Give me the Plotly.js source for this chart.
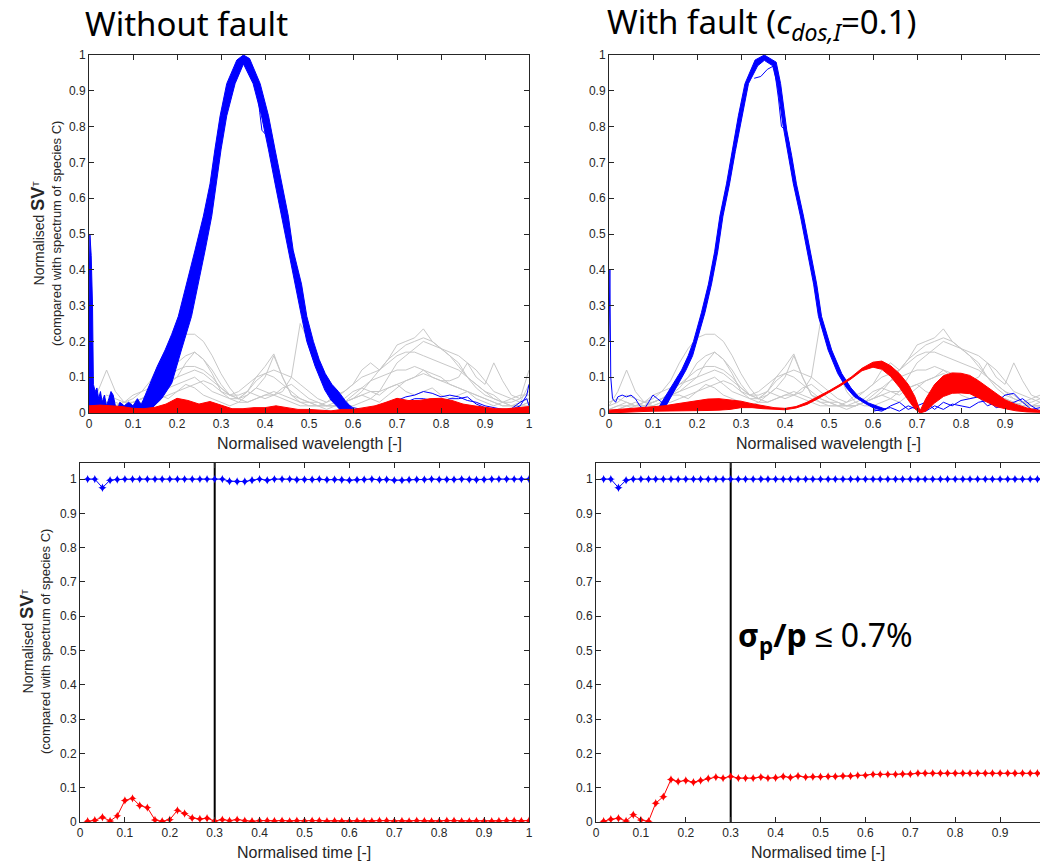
<!DOCTYPE html>
<html><head><meta charset="utf-8">
<script src="https://cdn.plot.ly/plotly-3.0.1.min.js"></script>
<style>html,body{margin:0;padding:0;overflow:hidden;background:#fff;width:1040px;height:862px}#chart{width:1060px;height:862px}</style>
</head><body><div id="chart"></div><script>
// ---------- tick labels ----------
const tickVals = [0,0.1,0.2,0.3,0.4,0.5,0.6,0.7,0.8,0.9,1];
const tickText = ['0','0.1','0.2','0.3','0.4','0.5','0.6','0.7','0.8','0.9','1'];
// right-hand panels are cut by the picture edge just before x = 1
const tickValsCut = [0,0.1,0.2,0.3,0.4,0.5,0.6,0.7,0.8,0.9];
const tickTextCut = ['0','0.1','0.2','0.3','0.4','0.5','0.6','0.7','0.8','0.9'];

// ---------- wavelength grid for grey spectra (other species) ----------
const wlGrid = [0,.02,.04,.06,.08,.10,.12,.14,.16,.18,.20,.22,.24,.26,.28,.30,.32,.34,.36,.38,.40,.42,.44,.46,.48,.50,.52,.54,.56,.58,.60,.62,.64,.66,.68,.70,.72,.74,.76,.78,.80,.82,.84,.86,.88,.90,.92,.94,.96,.98,1.0];
const greyA = [0.02,0.06,0.12,0.06,0.03,0.04,0.06,0.09,0.14,0.18,0.21,0.22,0.22,0.2,0.16,0.11,0.07,0.04,0.03,0.04,0.05,0.06,0.05,0.04,0.03,0.03,0.02,0.02,0.02,0.03,0.04,0.06,0.09,0.12,0.15,0.17,0.19,0.2,0.21,0.2,0.18,0.16,0.14,0.1,0.07,0.05,0.04,0.03,0.03,0.04,0.06];
const greyB = [0.01,0.02,0.03,0.02,0.02,0.03,0.04,0.05,0.07,0.1,0.14,0.16,0.17,0.15,0.12,0.08,0.05,0.04,0.05,0.07,0.1,0.16,0.1,0.05,0.03,0.02,0.02,0.03,0.05,0.06,0.08,0.12,0.14,0.12,0.15,0.19,0.2,0.21,0.235,0.2,0.18,0.16,0.13,0.1,0.08,0.06,0.05,0.03,0.02,0.02,0.03];
const greyC = [0.0,0.01,0.02,0.03,0.02,0.02,0.03,0.03,0.04,0.05,0.06,0.07,0.08,0.09,0.08,0.06,0.05,0.05,0.06,0.05,0.04,0.05,0.06,0.1,0.25,0.2,0.12,0.06,0.03,0.02,0.02,0.03,0.04,0.06,0.1,0.14,0.16,0.18,0.2,0.19,0.18,0.17,0.16,0.14,0.12,0.09,0.06,0.05,0.04,0.05,0.05];
const greyD = [0.03,0.04,0.03,0.02,0.03,0.05,0.06,0.07,0.08,0.09,0.1,0.11,0.12,0.11,0.09,0.07,0.05,0.04,0.06,0.09,0.11,0.1,0.08,0.06,0.04,0.03,0.03,0.02,0.02,0.03,0.04,0.05,0.06,0.06,0.07,0.08,0.09,0.1,0.12,0.1,0.09,0.09,0.1,0.14,0.1,0.08,0.14,0.09,0.05,0.04,0.12];
const greyE = [0.01,0.02,0.02,0.01,0.02,0.03,0.04,0.05,0.06,0.07,0.08,0.09,0.1,0.08,0.06,0.05,0.04,0.04,0.06,0.1,0.13,0.165,0.1,0.05,0.04,0.03,0.02,0.02,0.03,0.04,0.06,0.07,0.09,0.1,0.11,0.12,0.12,0.13,0.12,0.11,0.1,0.08,0.07,0.06,0.05,0.04,0.03,0.02,0.02,0.03,0.04];
const greyF = [0.02,0.03,0.05,0.04,0.03,0.02,0.03,0.05,0.05,0.04,0.06,0.08,0.07,0.05,0.04,0.03,0.02,0.03,0.05,0.07,0.06,0.05,0.07,0.08,0.06,0.04,0.03,0.02,0.02,0.03,0.05,0.07,0.06,0.05,0.07,0.08,0.06,0.05,0.06,0.07,0.05,0.04,0.05,0.06,0.04,0.03,0.02,0.03,0.04,0.03,0.08];
const greyG = [0.01,0.01,0.02,0.02,0.03,0.03,0.04,0.06,0.08,0.1,0.12,0.13,0.13,0.12,0.1,0.07,0.05,0.06,0.08,0.1,0.11,0.12,0.11,0.1,0.08,0.06,0.04,0.03,0.04,0.06,0.08,0.1,0.11,0.12,0.14,0.16,0.17,0.17,0.16,0.15,0.14,0.13,0.12,0.1,0.08,0.06,0.04,0.03,0.02,0.02,0.02];
const greyH = [0.0,0.01,0.01,0.02,0.02,0.03,0.04,0.05,0.06,0.08,0.1,0.14,0.17,0.15,0.11,0.06,0.04,0.03,0.03,0.04,0.05,0.05,0.04,0.03,0.02,0.02,0.02,0.01,0.02,0.03,0.04,0.05,0.04,0.03,0.05,0.07,0.09,0.1,0.11,0.1,0.09,0.08,0.07,0.06,0.05,0.04,0.03,0.02,0.02,0.02,0.03];

// ---------- species C band, without fault (outer and inner edges) ----------
const blueOuterX_nf = [0.10,0.12,0.139,0.155,0.173,0.188,0.203,0.222,0.241,0.26,0.275,0.286,0.298,0.313,0.336,0.351,0.365,0.389,0.408,0.423,0.438,0.453,0.464,0.483,0.495,0.51,0.523,0.537,0.552,0.567,0.582,0.597,0.61];
const blueOuterY_nf = [0.005,0.027,0.083,0.13,0.176,0.22,0.27,0.36,0.455,0.55,0.64,0.735,0.83,0.92,0.986,1.0,0.99,0.92,0.83,0.735,0.64,0.55,0.455,0.36,0.27,0.2,0.15,0.11,0.08,0.06,0.035,0.015,0.005];
const blueInnerX_nf = [0.14,0.165,0.188,0.21,0.233,0.248,0.264,0.279,0.29,0.30,0.313,0.332,0.351,0.373,0.392,0.408,0.423,0.438,0.453,0.468,0.483,0.495,0.514,0.536,0.55,0.57];
const blueInnerY_nf = [0.01,0.04,0.083,0.176,0.27,0.36,0.455,0.55,0.64,0.735,0.83,0.92,0.975,0.92,0.83,0.735,0.64,0.55,0.455,0.36,0.27,0.2,0.13,0.064,0.036,0.01];
const blueDevX_nf = [0.37,0.382,0.388,0.393,0.40,0.408,0.418];
const blueDevY_nf = [0.97,0.91,0.84,0.79,0.78,0.77,0.72];
const blueLowLX_nf = [0,0.002,0.005,0.008,0.01,0.014,0.018,0.022,0.026,0.03,0.035,0.04,0.045,0.05,0.055,0.06,0.065,0.07,0.08,0.09,0.1,0.11,0.12,0.13];
const blueLowLY_nf = [0.3,0.5,0.44,0.3,0.08,0.06,0.07,0.04,0.06,0.03,0.05,0.02,0.04,0.06,0.05,0.02,0.01,0.03,0.02,0.03,0.02,0.04,0.02,0.01];
const blueLowRX = [0.58,0.6,0.62,0.64,0.66,0.68,0.7,0.72,0.74,0.76,0.78,0.8,0.82,0.84,0.86,0.88,0.9,0.92,0.94,0.96,0.98,0.995,1.0];
const blueLowR1_nf = [0.03,0.015,0.01,0.012,0.02,0.03,0.035,0.045,0.05,0.06,0.055,0.045,0.05,0.045,0.035,0.03,0.02,0.015,0.01,0.01,0.02,0.05,0.08];
const blueLowR2_nf = [0.02,0.01,0.008,0.015,0.012,0.02,0.025,0.03,0.04,0.04,0.035,0.03,0.04,0.04,0.045,0.025,0.015,0.01,0.005,0.012,0.03,0.04,0.02];

// ---------- fault species band, without fault ----------
const redX = [0,0.025,0.05,0.075,0.1,0.125,0.15,0.175,0.2,0.225,0.25,0.275,0.3,0.325,0.35,0.375,0.4,0.425,0.45,0.475,0.5,0.525,0.55,0.575,0.6,0.625,0.65,0.675,0.7,0.725,0.75,0.775,0.8,0.825,0.85,0.875,0.9,0.925,0.95,0.975,1.0];
const redUpper_nf = [0.02,0.022,0.02,0.018,0.013,0.012,0.016,0.025,0.041,0.035,0.025,0.032,0.022,0.012,0.012,0.015,0.015,0.02,0.015,0.01,0.01,0.008,0.006,0.01,0.01,0.015,0.02,0.03,0.041,0.035,0.035,0.04,0.041,0.035,0.025,0.02,0.015,0.012,0.012,0.015,0.018];

// ---------- species C band, with fault ----------
const blueOuterX_f = [0.11,0.123,0.145,0.165,0.18,0.192,0.21,0.226,0.24,0.252,0.267,0.28,0.294,0.309,0.332,0.353,0.38,0.39,0.404,0.415,0.426,0.442,0.457,0.472,0.483,0.506,0.529,0.55,0.567,0.59,0.612,0.63];
const blueOuterY_f = [0.01,0.036,0.08,0.12,0.16,0.2,0.28,0.36,0.45,0.55,0.64,0.73,0.83,0.92,0.986,1.0,0.98,0.92,0.79,0.72,0.64,0.55,0.455,0.36,0.27,0.176,0.11,0.07,0.046,0.028,0.018,0.01];
const blueInnerX_f = [0.125,0.135,0.155,0.175,0.19,0.2,0.218,0.233,0.247,0.259,0.274,0.287,0.302,0.317,0.338,0.353,0.372,0.382,0.396,0.408,0.419,0.435,0.45,0.465,0.476,0.498,0.52,0.54,0.557,0.58,0.6,0.62];
const blueInnerY_f = [0.01,0.03,0.075,0.12,0.16,0.2,0.28,0.36,0.45,0.55,0.64,0.73,0.83,0.92,0.97,0.985,0.97,0.92,0.8,0.72,0.64,0.55,0.455,0.36,0.27,0.176,0.11,0.07,0.046,0.028,0.015,0.008];
const blueDevX_f = [0.33,0.345,0.36,0.375,0.385,0.392,0.402,0.41];
const blueDevY_f = [0.935,0.94,0.96,0.97,0.88,0.80,0.79,0.75];
const blueLowLX_f = [0,0.002,0.004,0.008,0.015,0.02,0.03,0.04,0.05,0.06,0.07,0.08,0.09,0.1,0.11,0.12,0.13];
const blueLowLY_f = [0.2,0.4,0.1,0.04,0.03,0.045,0.05,0.045,0.05,0.04,0.02,0.01,0.03,0.05,0.04,0.03,0.02];
const blueLowRX_f = [0.6,0.62,0.64,0.66,0.68,0.7,0.72,0.74,0.76,0.78,0.8,0.82,0.84,0.86,0.88,0.9,0.92,0.94,0.96,0.98,1.0];
const blueLowR1_f = [0.01,0.005,0.02,0.03,0.01,0.02,0.03,0.01,0.03,0.02,0.035,0.04,0.045,0.02,0.03,0.05,0.055,0.03,0.01,0.015,0.02];
const blueLowR2_f = [0.005,0.01,0.015,0.005,0.02,0.01,0.005,0.02,0.01,0.025,0.02,0.015,0.03,0.035,0.015,0.02,0.03,0.04,0.02,0.005,0.01];

// ---------- fault species band, with fault ----------
const redX_f = [0,0.025,0.05,0.075,0.1,0.125,0.15,0.175,0.2,0.225,0.25,0.275,0.3,0.325,0.35,0.375,0.4,0.425,0.45,0.475,0.5,0.525,0.55,0.575,0.6,0.62,0.64,0.66,0.68,0.695,0.707,0.72,0.74,0.76,0.78,0.8,0.82,0.84,0.86,0.88,0.9,0.925,0.95,0.975,1.0];
const redUpper_f = [0.008,0.01,0.012,0.014,0.016,0.02,0.025,0.03,0.035,0.039,0.04,0.037,0.033,0.026,0.02,0.015,0.013,0.018,0.03,0.045,0.062,0.08,0.1,0.125,0.142,0.145,0.132,0.11,0.08,0.046,0.006,0.04,0.08,0.104,0.112,0.111,0.105,0.09,0.072,0.054,0.037,0.024,0.014,0.008,0.006];
const redLower_f = [0.0,0.002,0.003,0.004,0.005,0.005,0.005,0.006,0.006,0.007,0.008,0.01,0.015,0.015,0.012,0.01,0.009,0.014,0.024,0.04,0.057,0.075,0.095,0.118,0.128,0.122,0.102,0.072,0.036,0.012,0.0,0.005,0.028,0.046,0.055,0.056,0.054,0.042,0.028,0.018,0.012,0.006,0.003,0.002,0.001];

// ---------- time series ----------
const timeX = [0.017,0.033,0.05,0.067,0.083,0.1,0.117,0.133,0.15,0.167,0.183,0.2,0.217,0.233,0.25,0.267,0.283,0.3,0.317,0.333,0.35,0.367,0.383,0.4,0.417,0.433,0.45,0.467,0.483,0.5,0.517,0.533,0.55,0.567,0.583,0.6,0.617,0.633,0.65,0.667,0.683,0.7,0.717,0.733,0.75,0.767,0.783,0.8,0.817,0.833,0.85,0.867,0.883,0.9,0.917,0.933,0.95,0.967,0.983,1.0];
const svC_nf = [1,1,0.975,0.997,0.999,1,1,1,1,1,1,1,1,1,1,1,1,1,1,0.994,0.993,0.993,0.997,1,0.997,1,1,1,0.998,0.999,0.999,1,0.998,0.999,0.998,0.997,0.998,0.999,1,0.998,0.999,0.997,0.997,0.998,0.999,0.999,1,0.999,0.999,0.999,1,0.999,0.998,0.999,1,1,1,1,1,1];
const svF_nf = [0.002,0.005,0.014,0.003,0.018,0.063,0.069,0.048,0.042,0.006,0.002,0.007,0.034,0.025,0.012,0.009,0.011,0.003,0.007,0.004,0.007,0.004,0.002,0.004,0.004,0.003,0.004,0.002,0.004,0.003,0.004,0.004,0.002,0.003,0.002,0.002,0.003,0.002,0.002,0.004,0.004,0.002,0.003,0.002,0.004,0.003,0.002,0.002,0.004,0.004,0.002,0.002,0.003,0.002,0.002,0.003,0.004,0.004,0.003,0.004];
const svC_f = [1,1,0.975,0.997,1,1,1,1,1,1,1,1,1,1,1,1,1,1,1,1,1,1,1,1,1,1,1,1,1,1,1,1,1,1,1,1,1,1,1,1,1,1,1,1,1,1,1,1,1,1,1,1,1,1,1,1,1,1,1,1];
const svF_f = [0.002,0.008,0.011,0.003,0.021,0.006,0.002,0.055,0.074,0.124,0.118,0.121,0.116,0.121,0.127,0.131,0.128,0.133,0.128,0.128,0.128,0.131,0.128,0.129,0.133,0.13,0.134,0.131,0.132,0.132,0.133,0.133,0.134,0.134,0.136,0.136,0.139,0.139,0.139,0.139,0.14,0.14,0.142,0.142,0.142,0.142,0.142,0.142,0.142,0.142,0.142,0.142,0.142,0.142,0.142,0.142,0.142,0.142,0.142,0.142];
const faultTime = [0.3, 0.3];
const faultLineY = [0, 1.047];

// ---------- build ----------
const BLUE = '#0000ff', RED = '#ff0000', GREY = '#c8c8c8';
const greys = [greyA, greyB, greyC, greyD, greyE, greyF, greyG, greyH];
const traces = [];
function line(x, y, xa, ya, color, w, extra) {
  return Object.assign({x: x, y: y, xaxis: xa, yaxis: ya, type: 'scatter', mode: 'lines',
    line: {color: color, width: w}, hoverinfo: 'skip', showlegend: false}, extra || {});
}
function band(ox, oy, ix, iy, xa, ya, color) {
  return line(ox.concat(ix.slice().reverse()), oy.concat(iy.slice().reverse()), xa, ya, color, 1,
    {fill: 'toself', fillcolor: color});
}
function spectraPanel(xa, ya, p) {
  greys.forEach(g => traces.push(line(wlGrid, g, xa, ya, GREY, 1)));
  traces.push(line(p.lowLX, p.lowLY, xa, ya, BLUE, 1, p.fillLow ? {fill: 'tozeroy', fillcolor: BLUE} : {}));
  traces.push(line(p.lowRX, p.lowR1, xa, ya, BLUE, 1));
  traces.push(line(p.lowRX, p.lowR2, xa, ya, BLUE, 1));
  traces.push(band(p.ox, p.oy, p.ix, p.iy, xa, ya, BLUE));
  traces.push(line(p.devX, p.devY, xa, ya, BLUE, 1));
  if (p.redLower) {
    traces.push(line(p.redX, p.redLower, xa, ya, RED, 1));
    traces.push(line(p.redX, p.redUpper, xa, ya, RED, 1, {fill: 'tonexty', fillcolor: RED}));
  } else {
    traces.push(line(p.redX, p.redUpper, xa, ya, RED, 1, {fill: 'tozeroy', fillcolor: RED}));
  }
}
spectraPanel('x', 'y', {lowLX: blueLowLX_nf, lowLY: blueLowLY_nf, fillLow: true, lowRX: blueLowRX, lowR1: blueLowR1_nf, lowR2: blueLowR2_nf,
  ox: blueOuterX_nf, oy: blueOuterY_nf, ix: blueInnerX_nf, iy: blueInnerY_nf, devX: blueDevX_nf, devY: blueDevY_nf,
  redX: redX, redUpper: redUpper_nf});
spectraPanel('x2', 'y2', {lowLX: blueLowLX_f, lowLY: blueLowLY_f, fillLow: false, lowRX: blueLowRX_f, lowR1: blueLowR1_f, lowR2: blueLowR2_f,
  ox: blueOuterX_f, oy: blueOuterY_f, ix: blueInnerX_f, iy: blueInnerY_f, devX: blueDevX_f, devY: blueDevY_f,
  redX: redX_f, redUpper: redUpper_f, redLower: redLower_f});

function tsPanel(xa, ya, c, f) {
  const mk = col => ({symbol: 'star-diamond', size: 6, color: col});
  traces.push(line(faultTime, faultLineY, xa, ya, '#000000', 2));
  traces.push(line(timeX, c, xa, ya, BLUE, 1, {mode: 'lines+markers', marker: mk(BLUE)}));
  traces.push(line(timeX, f, xa, ya, RED, 1, {mode: 'lines+markers', marker: mk(RED)}));
}
tsPanel('x3', 'y3', svC_nf, svF_nf);
tsPanel('x4', 'y4', svC_f, svF_f);

const W = 1060, H = 862;
const px = v => v / W, py = v => 1 - v / H;
const AX = {showline: true, linecolor: '#262626', linewidth: 1, mirror: 'ticks', ticks: 'inside', ticklen: 5,
  tickcolor: '#262626', showgrid: false, zeroline: false, fixedrange: true,
  tickfont: {family: 'Liberation Sans, Arial, sans-serif', size: 12, color: '#262626'},
  tickmode: 'array', tickvals: tickVals, ticktext: tickText};
const ax = (dom, anchor, range, extra) => Object.assign({}, AX, {domain: dom, anchor: anchor, range: range}, extra || {});
const cut = {tickvals: tickValsCut, ticktext: tickTextCut};

const txt = {family: 'Liberation Sans, Arial, sans-serif', size: 16, color: '#262626'};
const ytxt = {family: 'Liberation Sans, Arial, sans-serif', size: 13, color: '#262626'};
const ytitle = '<span style="font-size:14px">Normalised </span><span style="font-size:18px"><b>SV</b></span><sup>T</sup><br>(compared with spectrum of species C)';
const ann = (x, y, text, font, extra) => Object.assign({xref: 'paper', yref: 'paper', x: px(x), y: py(y), text: text,
  showarrow: false, font: font, xanchor: 'center', yanchor: 'middle'}, extra || {});
const big = {family: 'Noto Sans, sans-serif', size: 33, color: '#000000'};

const layout = {
  width: W, height: H, margin: {l: 0, r: 0, t: 0, b: 0}, paper_bgcolor: '#ffffff', plot_bgcolor: '#ffffff',
  showlegend: false,
  xaxis: ax([px(89), px(529)], 'y', [0, 1]),
  yaxis: ax([py(413), py(55)], 'x', [0, 1]),
  xaxis2: ax([px(609), px(1049)], 'y2', [0, 1], cut),
  yaxis2: ax([py(413), py(55)], 'x2', [0, 1]),
  xaxis3: ax([px(80), px(529)], 'y3', [0, 1]),
  yaxis3: ax([py(822), py(463)], 'x3', [0, 1.047]),
  xaxis4: ax([px(596), px(1045)], 'y4', [0, 1], cut),
  yaxis4: ax([py(822), py(463)], 'x4', [0, 1.047]),
  annotations: [
    ann(83, 24, 'Without fault', big, {xanchor: 'left'}),
    ann(605, 24, 'With fault (<i>c</i><sub><i>dos,I</i></sub>=0.1)', big, {xanchor: 'left'}),
    ann(736, 637, '<b>σ<sub>p</sub>/p</b> ≤ 0.7%', {family: 'Noto Sans, sans-serif', size: 32, color: '#000000'}, {xanchor: 'left'}),
    ann(309, 444, 'Normalised wavelength [-]', txt),
    ann(828, 444, 'Normalised wavelength [-]', txt),
    ann(304, 852, 'Normalised time [-]', txt),
    ann(818, 852, 'Normalised time [-]', txt),
    ann(46, 234, ytitle, ytxt, {textangle: -90}),
    ann(35, 642, ytitle, ytxt, {textangle: -90})
  ]
};
Plotly.newPlot('chart', traces, layout, {displayModeBar: false, staticPlot: true});
</script></body></html>
